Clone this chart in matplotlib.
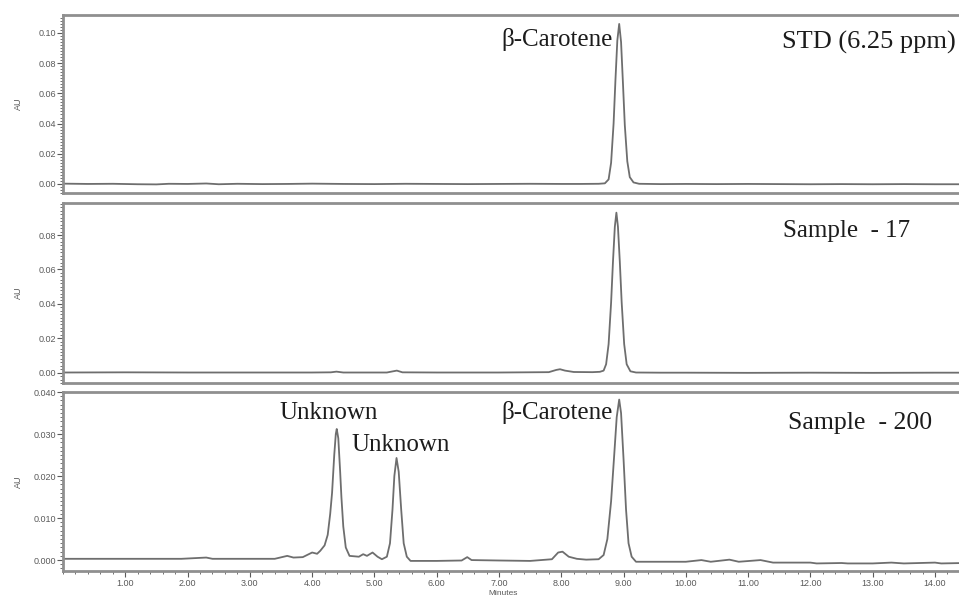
import numpy as np
import matplotlib
matplotlib.use("Agg")
import matplotlib.pyplot as plt
from matplotlib.ticker import MultipleLocator, FormatStrFormatter

# === Chromatogram traces (minutes vs AU) ===

std_time = [0.0, 0.4, 0.8, 1.2, 1.5, 1.7, 2.0, 2.3, 2.5, 2.8, 3.2, 3.6, 4.0,
            4.5, 5.0, 5.5, 6.0, 6.5, 7.0, 7.5, 8.0, 8.3, 8.6, 8.70, 8.76,
            8.80, 8.84, 8.87, 8.90, 8.93, 8.96, 8.99, 9.02, 9.06, 9.10,
            9.16, 9.25, 9.6, 10.0, 10.5, 11.0, 11.5, 12.0, 12.5, 13.0,
            13.5, 14.0, 14.45]
std_au = [0.0002, 0.0000, 0.0001, -0.0002, -0.0003, 0.0001, 0.0000, 0.0003,
          -0.0002, 0.0001, -0.0001, 0.0000, 0.0002, 0.0000, -0.0001, 0.0001,
          0.0000, -0.0001, 0.0000, 0.0001, 0.0000, 0.0000, 0.0001, 0.0004,
          0.0030, 0.0140, 0.0400, 0.0690, 0.0950, 0.1060, 0.0940, 0.0670,
          0.0390, 0.0150, 0.0045, 0.0010, 0.0001, -0.0001, 0.0000, -0.0001,
          0.0000, -0.0001, -0.0002, -0.0001, -0.0002, -0.0001, -0.0002,
          -0.0002]

s17_time = [0.0, 1.0, 2.0, 3.0, 4.0, 4.3, 4.39, 4.5, 5.2, 5.3, 5.36, 5.45,
            6.0, 7.0, 7.8, 7.92, 7.98, 8.06, 8.2, 8.5, 8.62, 8.68, 8.72,
            8.76, 8.80, 8.83, 8.86, 8.885, 8.91, 8.94, 8.97, 9.01, 9.05,
            9.11, 9.2, 9.6, 10.0, 11.0, 12.0, 13.0, 14.0, 14.45]
s17_au = [0.0001, 0.0002, 0.0001, 0.0001, 0.0001, 0.0002, 0.0006, 0.0001,
          0.0001, 0.0008, 0.0012, 0.0002, 0.0001, 0.0001, 0.0003, 0.0016,
          0.0020, 0.0012, 0.0004, 0.0003, 0.0005, 0.0012, 0.0049, 0.0166,
          0.0407, 0.0644, 0.0848, 0.0930, 0.0848, 0.0644, 0.0407, 0.0166,
          0.0049, 0.0008, 0.0001, 0.0000, 0.0000, -0.0001, 0.0000, -0.0001,
          0.0000, 0.0000]

s200_time = [0.0, 1.0, 1.9, 2.3, 2.4, 3.4, 3.6, 3.7, 3.85, 4.0, 4.08, 4.13,
             4.20, 4.25, 4.29, 4.32, 4.355, 4.38, 4.395, 4.42, 4.45, 4.47,
             4.50, 4.54, 4.60, 4.75, 4.82, 4.88, 4.97, 5.05, 5.12, 5.20,
             5.25, 5.29, 5.32, 5.355, 5.39, 5.43, 5.47, 5.52, 5.58, 6.0,
             6.4, 6.49, 6.56, 7.0, 7.5, 7.85, 7.95, 8.02, 8.12, 8.25, 8.4,
             8.6, 8.68, 8.74, 8.80, 8.85, 8.89, 8.93, 8.96, 9.00, 9.04,
             9.08, 9.13, 9.2, 9.6, 10.0, 10.25, 10.4, 10.7, 10.85, 11.2,
             11.4, 12.0, 12.1, 12.5, 12.6, 13.0, 13.3, 13.5, 14.0, 14.1,
             14.45]
s200_au = [0.0003, 0.0003, 0.0003, 0.0006, 0.0003, 0.0003, 0.0010, 0.0006,
           0.0007, 0.0018, 0.0015, 0.0022, 0.0035, 0.0060, 0.0110, 0.0160,
           0.0250, 0.0300, 0.0312, 0.0290, 0.0210, 0.0150, 0.0080, 0.0030,
           0.0010, 0.0008, 0.0014, 0.0010, 0.0018, 0.0008, 0.0002, 0.0008,
           0.0040, 0.0120, 0.0200, 0.0243, 0.0210, 0.0120, 0.0040, 0.0008,
           -0.0002, -0.0002, -0.0001, 0.0007, 0.0000, -0.0001, -0.0002,
           0.0002, 0.0018, 0.0020, 0.0008, 0.0003, 0.0001, 0.0002, 0.0012,
           0.0050, 0.0140, 0.0250, 0.0340, 0.0382, 0.0350, 0.0240, 0.0120,
           0.0040, 0.0008, -0.0004, -0.0004, -0.0004, 0.0000, -0.0004,
           0.0001, -0.0004, 0.0000, -0.0006, -0.0006, -0.0008, -0.0007,
           -0.0008, -0.0008, -0.0006, -0.0008, -0.0006, -0.0008, -0.0007]

x_range = (0.0, 14.45)
y_ranges = [(-0.0060, 0.1119), (-0.0060, 0.0986), (-0.0026, 0.0400)]
y_majors = [0.02, 0.02, 0.010]
y_formats = ["%.2f", "%.2f", "%.3f"]

traces = [(std_time, std_au), (s17_time, s17_au), (s200_time, s200_au)]

# annotations: (panel, text, x frac, y frac, ha, size)
labels = [
    (0, "β-Carotene", 0.611, 0.865, "right", 18),
    (0, "STD (6.25 ppm)", 0.799, 0.843, "left", 19),
    (1, "Sample  - 17", 0.800, 0.844, "left", 18),
    (2, "Unknown", 0.241, 0.883, "left", 18),
    (2, "Unknown", 0.321, 0.704, "left", 18),
    (2, "β-Carotene", 0.611, 0.883, "right", 18),
    (2, "Sample  - 200", 0.806, 0.827, "left", 18.5),
]

# === Layout (pixels of a 959x599 image) ===
W, H = 959, 599
left_px, width_px = 63, 900
panels_px = [(15, 193), (203, 383), (392, 571)]

fig = plt.figure(figsize=(W / 100, H / 100), dpi=100)
plt.rcParams["font.family"] = ["Liberation Sans", "DejaVu Sans"]

line_col = "#6e6e6e"
frame_col = "#8f8f8f"
tick_col = "#5a5a5a"

axes = []
for i, (top, bot) in enumerate(panels_px):
    ax = fig.add_axes([left_px / W, (H - bot) / H, width_px / W, (bot - top) / H])
    t, v = traces[i]
    ax.plot(t, v, color=line_col, lw=1.3)
    ax.set_xlim(*x_range)
    ax.set_ylim(*y_ranges[i])

    for side in ["left", "top", "bottom", "right"]:
        ax.spines[side].set_color(frame_col)
        ax.spines[side].set_linewidth(2.0)

    ax.yaxis.set_major_locator(MultipleLocator(y_majors[i]))
    ax.yaxis.set_minor_locator(MultipleLocator(y_majors[i] / 10))
    ax.yaxis.set_major_formatter(FormatStrFormatter(y_formats[i]))
    ax.tick_params(axis="y", which="major", length=4, width=0.8, color=tick_col,
                   labelsize=6.5, labelcolor=tick_col, pad=1)
    ax.tick_params(axis="y", which="minor", length=2, width=0.6, color=tick_col)

    ax.set_ylabel("AU", fontsize=6.5, color=tick_col)
    ax.yaxis.set_label_coords(-0.045, 0.5)

    if i < 2:
        ax.tick_params(axis="x", which="both", bottom=False, labelbottom=False)
    else:
        ax.xaxis.set_minor_locator(MultipleLocator(0.2))
        ax.set_xticks(list(range(1, 15)))
        ax.xaxis.set_major_formatter(FormatStrFormatter("%.2f"))
        ax.tick_params(axis="x", which="major", length=4, width=0.8, color=tick_col,
                       labelsize=6.5, labelcolor=tick_col, pad=2)
        ax.tick_params(axis="x", which="minor", length=2.5, width=0.6, color=tick_col)
        ax.set_xlabel("Minutes", fontsize=6, color=tick_col)
        ax.xaxis.set_label_coords(0.489, -0.108)
    axes.append(ax)

for panel, txt, xf, yf, ha, size in labels:
    axes[panel].text(xf, yf, txt, transform=axes[panel].transAxes, ha=ha, va="center",
                     fontsize=size, color="#1c1c1c",
                     family=["Liberation Serif", "DejaVu Serif"])

fig.savefig("out.png", dpi=100)
